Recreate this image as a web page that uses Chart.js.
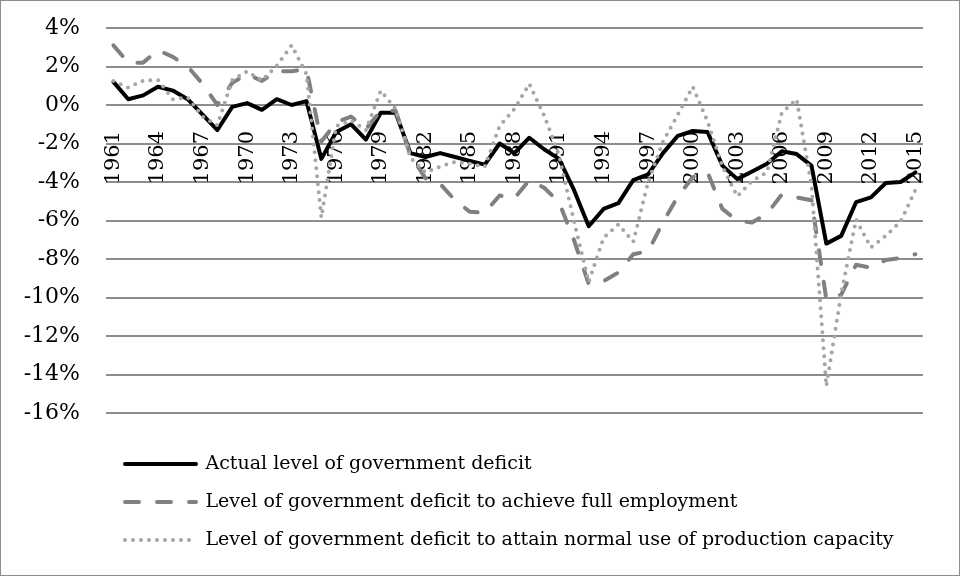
<!DOCTYPE html>
<html>
<head>
<meta charset="utf-8">
<script src="https://cdn.jsdelivr.net/npm/chart.js@4.4.1/dist/chart.umd.min.js"></script>
<style>
  html, body { margin: 0; padding: 0; background: #fff; }
  #wrap { width: 960px; height: 576px; box-sizing: border-box; border: 1px solid #8c8c8c; }
  canvas { display: block; }
</style>
</head>
<body>
<div id="wrap"><canvas id="chart" width="958" height="574"></canvas></div>
<script>
const years = [
  "1961", "1962", "1963", "1964", "1965", "1966", "1967", "1968", "1969", "1970",
  "1971", "1972", "1973", "1974", "1975", "1976", "1977", "1978", "1979", "1980",
  "1981", "1982", "1983", "1984", "1985", "1986", "1987", "1988", "1989", "1990",
  "1991", "1992", "1993", "1994", "1995", "1996", "1997", "1998", "1999", "2000",
  "2001", "2002", "2003", "2004", "2005", "2006", "2007", "2008", "2009", "2010",
  "2011", "2012", "2013", "2014", "2015"
];

// % of GDP
const actualDeficit = [
  1.2, 0.3, 0.5, 0.95, 0.75, 0.3, -0.5, -1.3, -0.1, 0.1,
  -0.25, 0.3, 0.0, 0.2, -2.8, -1.4, -1.0, -1.8, -0.4, -0.4,
  -2.5, -2.7, -2.5, -2.7, -2.9, -3.1, -2.0, -2.5, -1.7, -2.3,
  -2.8, -4.4, -6.3, -5.4, -5.1, -3.9, -3.6, -2.5, -1.6, -1.35,
  -1.4, -3.15, -3.85, -3.45, -3.05, -2.4, -2.55, -3.15, -7.2, -6.8,
  -5.05, -4.8, -4.05, -4.0, -3.5
];

const fullEmploymentDeficit = [
  3.1, 2.2, 2.2, 2.85, 2.5, 2.0, 1.1, 0.0, 1.15, 1.6,
  1.25, 1.75, 1.75, 1.85, -1.9, -0.9, -0.6, -1.25, -0.3, -0.3,
  -2.6, -3.8, -4.1, -4.95, -5.55, -5.6, -4.7, -4.85, -3.9, -4.3,
  -5.05, -7.0, -9.3, -9.15, -8.7, -7.75, -7.6, -6.1, -4.75, -3.75,
  -3.5, -5.4, -6.0, -6.1, -5.65, -4.65, -4.8, -4.95, -10.1, -9.85,
  -8.3, -8.45, -8.05, -7.95, -7.75
];

const normalCapacityDeficit = [
  1.25, 0.9, 1.27, 1.3, 0.3, 0.4, -0.6, -1.05, 1.3, 1.75,
  1.27, 2.05, 3.1, 1.6, -5.85, -1.1, -0.8, -1.3, 0.75, -0.2,
  -2.75, -3.5, -3.2, -2.95, -3.05, -3.2, -1.1, -0.2, 1.1, -0.55,
  -2.6, -6.0, -9.2, -6.9, -6.2, -7.1, -4.0, -1.9, -0.5, 0.95,
  -0.85, -3.2, -4.75, -3.94, -3.5, -0.4, 0.3, -4.2, -14.6, -9.8,
  -5.95, -7.4, -6.8, -6.05, -4.4
];

const seriesNames = [
  "Actual level of government deficit",
  "Level of government deficit to achieve full employment",
  "Level of government deficit to attain normal use of production capacity"
];

Chart.defaults.font.family = "'DejaVu Serif', serif";
Chart.defaults.color = "#000000";

// legend samples should show the same dash pattern as the lines
function lineLegendLabels(chart) {
  const items = Chart.defaults.plugins.legend.labels.generateLabels(chart);
  items.forEach((item) => {
    const ds = chart.data.datasets[item.datasetIndex];
    item.lineDash = ds.borderDash || [];
    item.lineWidth = ds.borderWidth;
    item.lineCap = ds.borderCapStyle;
    item.strokeStyle = ds.borderColor;
  });
  return items;
}

const ctx = document.getElementById("chart").getContext("2d");
const chart = new Chart(ctx, {
  type: "line",
  data: {
    labels: years,
    datasets: [
      {
        label: seriesNames[0],
        data: actualDeficit,
        borderColor: "#000000",
        backgroundColor: "#000000",
        borderWidth: 4,
        borderJoinStyle: "round",
        borderCapStyle: "round",
        pointRadius: 0,
        order: 3,
      },
      {
        label: seriesNames[1],
        data: fullEmploymentDeficit,
        borderColor: "#808080",
        backgroundColor: "#808080",
        borderWidth: 4,
        borderDash: [14, 18],
        borderJoinStyle: "round",
        borderCapStyle: "round",
        pointRadius: 0,
        order: 2,
      },
      {
        label: seriesNames[2],
        data: normalCapacityDeficit,
        borderColor: "#a6a6a6",
        backgroundColor: "#a6a6a6",
        borderWidth: 4,
        borderDash: [0, 8],
        borderJoinStyle: "round",
        borderCapStyle: "round",
        pointRadius: 0,
        order: 1,
      },
    ],
  },
  options: {
    responsive: false,
    animation: false,
    devicePixelRatio: 1,
    layout: {
      padding: { top: 27, right: 24, bottom: 15.5, left: 0 },
    },
    plugins: {
      tooltip: { enabled: false },
      legend: {
        position: "bottom",
        align: "start",
        fullSize: false,
        // empty title only keeps a gap between the plot and the legend rows
        title: { display: true, text: "", padding: 0, font: { size: 18.75 } },
        labels: {
          usePointStyle: true,
          pointStyle: "line",
          pointStyleWidth: 71,
          padding: 19,
          color: "#000000",
          font: { size: 19 },
          sort: (a, b) => a.datasetIndex - b.datasetIndex,
          generateLabels: lineLegendLabels,
        },
      },
    },
    scales: {
      x: {
        type: "category",
        offset: true,
        position: { y: 0 },
        grid: { display: false },
        border: { display: false },
        ticks: {
          autoSkip: false,
          minRotation: 90,
          maxRotation: 90,
          padding: 18,
          font: { size: 21 },
          callback: function (value, index) {
            return index % 3 === 0 ? this.getLabelForValue(value) : "";
          },
        },
        afterFit: (scale) => {
          scale.height = 0;
        },
      },
      y: {
        min: -16,
        max: 4,
        grid: {
          color: "#8c8c8c",
          lineWidth: 2,
          drawTicks: true,
          tickLength: 26,
          tickColor: "rgba(0,0,0,0)",
        },
        border: { display: false },
        ticks: {
          stepSize: 2,
          padding: 0,
          font: { size: 22 },
          callback: (v) => v + "%",
        },
        afterFit: (scale) => {
          scale.width = 105;
        },
      },
    },
  },
});
</script>
</body>
</html>
